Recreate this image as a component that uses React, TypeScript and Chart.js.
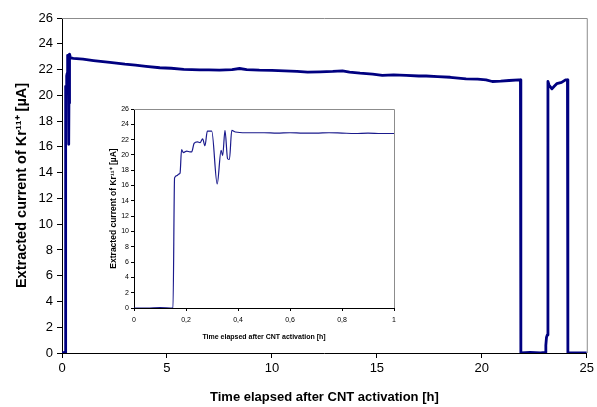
import React, { useEffect, useRef } from "react";
import { Chart, registerables } from "chart.js";

Chart.register(...registerables);

// ---- Inset data: first hour after activation ----
const insetTime = [0, 0.05, 0.1, 0.15, 0.156, 0.165, 0.172, 0.177, 0.183, 0.19, 0.203, 0.215, 0.222, 0.231, 0.244, 0.254, 0.264, 0.273, 0.282, 0.299, 0.32, 0.335, 0.341, 0.35, 0.36, 0.367, 0.376, 0.39, 0.43, 0.5, 0.55, 0.6, 0.65, 0.7, 0.75, 0.8, 0.85, 0.9, 0.95, 1.0];
const insetCurrent = [0, 0, 0.05, 0, 17.0, 17.3, 17.5, 17.6, 20.7, 20.3, 20.5, 20.4, 20.4, 21.5, 21.7, 21.6, 22.1, 21.2, 23.1, 23.1, 16.2, 20.6, 19.9, 23.2, 19.5, 19.4, 23.2, 23.0, 22.9, 22.9, 22.85, 22.9, 22.85, 22.85, 22.9, 22.85, 22.8, 22.85, 22.8, 22.8];

// ---- Main data: long-term run (after the first 0.43 h) ----
const longTime = [0.54, 1.0, 1.5, 2.28, 3.0, 3.5, 4.0, 4.66, 5.2, 5.8, 6.56, 7.0, 7.5, 8.1, 8.46, 8.8, 9.4, 10.0, 10.6, 11.2, 11.7, 12.3, 12.9, 13.36, 13.7, 14.2, 14.8, 15.26, 15.8, 16.4, 17.0, 17.35, 17.9, 18.5, 19.25, 19.8, 20.2, 20.5, 20.9, 21.3, 21.77, 21.84, 21.86, 22.3, 22.8, 23.02, 23.05, 23.08, 23.12, 23.15, 23.2, 23.34, 23.45, 23.57, 23.8, 23.99, 24.08, 24.1, 24.5, 25.0];
const longCurrent = [22.87, 22.8, 22.7, 22.55, 22.42, 22.35, 22.25, 22.14, 22.1, 22.02, 21.97, 21.98, 21.96, 22.0, 22.08, 22.0, 21.95, 21.93, 21.9, 21.85, 21.8, 21.82, 21.85, 21.9, 21.8, 21.72, 21.65, 21.55, 21.58, 21.55, 21.5, 21.5, 21.45, 21.4, 21.27, 21.25, 21.2, 21.07, 21.1, 21.15, 21.2, 21.2, 0, 0.05, 0, 0.05, 0.6, 1.2, 1.4, 21.07, 20.8, 20.5, 20.7, 20.9, 21.0, 21.2, 21.2, 0, 0, 0];

const mainXTicks = [0, 5, 10, 15, 20, 25];
const mainYMax = 26;
const yStep = 2;
const insetXTicks = [0, 0.2, 0.4, 0.6, 0.8, 1];

const xTitle = "Time elapsed after CNT activation [h]";
const yTitle = "Extracted current of Kr\u00B9\u00B9\u207A [\u00B5A]";

const LINE = "#000080";
const FONT = "'Liberation Sans', Arial, sans-serif";

const framePlugin = {
  id: "frame",
  beforeDatasetsDraw(chart: any) {
    const { ctx, chartArea } = chart;
    ctx.save();
    ctx.strokeStyle = "#8c8c8c";
    ctx.lineWidth = 1;
    ctx.beginPath();
    ctx.moveTo(chartArea.left, chartArea.top + 0.5);
    ctx.lineTo(chartArea.right + 0.5, chartArea.top + 0.5);
    ctx.lineTo(chartArea.right + 0.5, chartArea.bottom);
    ctx.stroke();
    ctx.restore();
  },
};

function toPoints(xs: number[], ys: number[]) {
  return xs.map((x, i) => ({ x, y: ys[i] }));
}

export default function App() {
  const mainRef = useRef<HTMLCanvasElement>(null);
  const insetRef = useRef<HTMLCanvasElement>(null);

  useEffect(() => {
    const earlyCount = insetTime.filter((t) => t <= 0.43).length;
    const mainData = toPoints(
      insetTime.slice(0, earlyCount).concat(longTime),
      insetCurrent.slice(0, earlyCount).concat(longCurrent)
    );

    const main = new Chart(mainRef.current!, {
      type: "line",
      data: {
        datasets: [
          {
            data: mainData,
            borderColor: LINE,
            borderWidth: 2.8,
            borderJoinStyle: "round",
            pointRadius: 0,
            tension: 0,
            fill: false,
          },
        ],
      },
      options: {
        animation: false,
        responsive: false,
        maintainAspectRatio: false,
        layout: { padding: { left: 0, top: 18, right: 9, bottom: 0 } },
        plugins: { legend: { display: false }, tooltip: { enabled: false } },
        scales: {
          x: {
            type: "linear",
            min: 0,
            max: 25,
            afterBuildTicks: (s: any) => {
              s.ticks = mainXTicks.map((v) => ({ value: v }));
            },
            afterFit: (s: any) => {
              s.height = 54;
            },
            border: { color: "#000", width: 1 },
            grid: { drawOnChartArea: false, drawTicks: true, tickLength: 5, color: "#000" },
            ticks: { color: "#000", font: { family: FONT, size: 13 }, padding: 3, maxRotation: 0 },
            title: {
              display: true,
              text: xTitle,
              color: "#000",
              font: { family: FONT, size: 13, weight: "bold" },
              padding: { top: 0, bottom: 2 },
            },
          },
          y: {
            type: "linear",
            min: 0,
            max: mainYMax,
            ticks: { stepSize: yStep, color: "#000", font: { family: FONT, size: 13 }, padding: 4 },
            afterFit: (s: any) => {
              s.width = 62;
            },
            border: { color: "#000", width: 1 },
            grid: { drawOnChartArea: false, drawTicks: true, tickLength: 5, color: "#000" },
            title: {
              display: true,
              text: yTitle,
              color: "#000",
              font: { family: FONT, size: 14.5, weight: "bold" },
              padding: { top: 13, bottom: 0 },
            },
          },
        },
      },
      plugins: [framePlugin],
    });

    const inset = new Chart(insetRef.current!, {
      type: "line",
      data: {
        datasets: [
          {
            data: toPoints(insetTime, insetCurrent),
            borderColor: "#1a1a8c",
            borderWidth: 1.2,
            pointRadius: 0,
            cubicInterpolationMode: "monotone",
            fill: false,
          },
        ],
      },
      options: {
        animation: false,
        responsive: false,
        maintainAspectRatio: false,
        layout: { padding: { left: 0, top: 9, right: 11, bottom: 0 } },
        plugins: { legend: { display: false }, tooltip: { enabled: false } },
        scales: {
          x: {
            type: "linear",
            min: 0,
            max: 1,
            afterBuildTicks: (s: any) => {
              s.ticks = insetXTicks.map((v) => ({ value: v }));
            },
            afterFit: (s: any) => {
              s.height = 37;
            },
            border: { color: "#000", width: 1 },
            grid: { drawOnChartArea: false, drawTicks: true, tickLength: 3, color: "#000" },
            ticks: {
              color: "#000",
              font: { family: FONT, size: 7 },
              padding: 5,
              maxRotation: 0,
              callback: (v: any) => {
                const n = Number(v);
                return Number.isInteger(n) ? String(n) : n.toFixed(1).replace(".", ",");
              },
            },
            title: {
              display: true,
              text: xTitle,
              color: "#000",
              font: { family: FONT, size: 7, weight: "bold" },
              padding: { top: 0, bottom: 4 },
            },
          },
          y: {
            type: "linear",
            min: 0,
            max: mainYMax,
            ticks: { stepSize: yStep, color: "#000", font: { family: FONT, size: 7 }, padding: 2 },
            afterFit: (s: any) => {
              s.width = 34;
            },
            border: { color: "#000", width: 1 },
            grid: { drawOnChartArea: false, drawTicks: true, tickLength: 3, color: "#000" },
            title: {
              display: true,
              text: yTitle,
              color: "#000",
              font: { family: FONT, size: 8.5, weight: "bold" },
              padding: { top: 9, bottom: 0 },
            },
          },
        },
      },
      plugins: [framePlugin],
    });

    return () => {
      main.destroy();
      inset.destroy();
    };
  }, []);

  return (
    <div style={{ position: "fixed", left: 0, top: 0, width: 597, height: 407, background: "#fff" }}>
      <canvas ref={mainRef} width={597} height={407} style={{ position: "absolute", left: 0, top: 0, width: 597, height: 407 }} />
      <canvas ref={insetRef} width={305} height={245} style={{ position: "absolute", left: 100, top: 100, width: 305, height: 245 }} />
    </div>
  );
}
